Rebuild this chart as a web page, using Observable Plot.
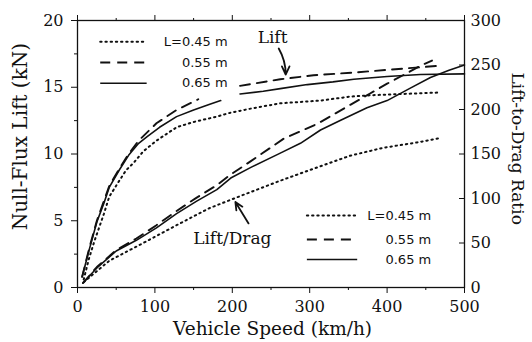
<!DOCTYPE html>
<html><head><meta charset="utf-8">
<script src="https://cdn.jsdelivr.net/npm/d3@7"></script>
<script src="https://cdn.jsdelivr.net/npm/@observablehq/plot@0.6"></script>
<style>body{margin:0;background:#fff}</style>
</head><body><div id="chart"></div>
<script>
// Legend labels
const lengthLabels = ["L=0.45 m", "0.55 m", "0.65 m"];

// Null-flux lift (kN) vs vehicle speed (km/h); null = break in the drawn curve
const liftSpeed045 = [8, 15, 22, 34, 41, 54, 63, 72, 85, 102, 128, 150, 180, 198, 224, 262, 314, 352, 378, 421, 465];
const lift045      = [0.6, 2.2, 3.5, 5.5, 6.8, 8.0, 8.8, 9.3, 10.2, 11.0, 12.0, 12.4, 12.8, 13.1, 13.4, 13.8, 14.0, 14.3, 14.4, 14.5, 14.6];

const liftSpeed055 = [6, 15, 25, 41, 54, 66, 79, 102, 128, 156, 183, 210, 262, 305, 357, 400, 443, 466];
const lift055      = [0.8, 2.9, 5.0, 7.6, 8.9, 10.0, 11.0, 12.3, 13.3, 14.1, null, 15.1, 15.6, 15.9, 16.1, 16.3, 16.5, 16.6];

const liftSpeed065 = [6, 15, 25, 34, 41, 54, 66, 79, 90, 106, 128, 150, 170, 185, 197, 210, 240, 262, 297, 330, 357, 400, 443, 500];
const lift065      = [0.8, 2.8, 4.9, 6.3, 7.5, 8.8, 9.9, 10.8, 11.3, 12.0, 12.8, 13.3, 13.7, 14.0, null, 14.5, 14.7, 14.9, 15.2, 15.4, 15.6, 15.8, 15.95, 16.0];

// Lift-to-drag ratio vs vehicle speed (km/h)
const ratioSpeed045 = [8, 41, 85, 128, 170, 214, 262, 310, 352, 395, 439, 469];
const ratio045      = [6, 30, 50, 70, 89, 104, 120, 135, 148, 157, 163, 168];

const ratioSpeed055 = [7, 25, 50, 76, 102, 128, 154, 180, 198, 224, 266, 310, 352, 378, 400, 426, 445, 458];
const ratio055      = [5, 23, 42, 55, 70, 86, 101, 115, 127, 142, 167, 184, 205, 218, 229, 241, 250, 255];

const ratioSpeed065 = [7, 25, 50, 76, 102, 128, 154, 180, 198, 224, 262, 288, 314, 340, 374, 400, 430, 456, 480, 500];
const ratio065      = [5, 22, 41, 53, 67, 83, 97, 110, 123, 135, 151, 162, 177, 188, 202, 210, 224, 236, 244, 250];

// Axis ticks
const speedTicks = [0, 100, 200, 300, 400, 500];
const speedMinorTicks = [50, 150, 250, 350, 450];
const liftTicks = [0, 5, 10, 15, 20];
const liftMinorTicks = [2.5, 7.5, 12.5, 17.5];
const ratioTicks = [0, 50, 100, 150, 200, 250, 300];
const ratioPerKN = 15; // right axis 0–300 spans left axis 0–20

// Legend / annotation anchor positions (data units)
const legendTopY = [18.4, 16.85, 15.3];
const legendBottomY = [5.4, 3.6, 2.1];

const styles = [
  {strokeDasharray: "1.4 3.8", strokeLinecap: "round", strokeWidth: 2},
  {strokeDasharray: "10 7", strokeWidth: 1.9},
  {strokeWidth: 1.6}
];

const rows = (xs, ys) => xs.map((x, i) => ({x, y: ys[i]}));
const liftSets = [rows(liftSpeed045, lift045), rows(liftSpeed055, lift055), rows(liftSpeed065, lift065)];
const ratioSets = [rows(ratioSpeed045, ratio045), rows(ratioSpeed055, ratio055), rows(ratioSpeed065, ratio065)];

const ink = "#111";
const marks = [];
styles.forEach((s, i) => {
  marks.push(Plot.line(liftSets[i], {x: "x", y: "y", stroke: ink, ...s}));
  marks.push(Plot.line(ratioSets[i], {x: "x", y: d => d.y / ratioPerKN, stroke: ink, ...s}));
  marks.push(Plot.ruleY([legendTopY[i]], {x1: 30, x2: 90, stroke: ink, ...s}));
  marks.push(Plot.ruleY([legendBottomY[i]], {x1: 297, x2: 362, stroke: ink, ...s}));
});

const chart = Plot.plot({
  width: 532, height: 342,
  marginLeft: 77, marginRight: 68, marginTop: 20, marginBottom: 55,
  style: {fontFamily: "DejaVu Serif", fontSize: "16px", background: "white", color: ink, overflow: "visible"},
  x: {domain: [0, 500]},
  y: {domain: [0, 20]},
  marks: [
    Plot.frame({stroke: ink, strokeWidth: 1.3}),
    Plot.axisX({anchor: "bottom", ticks: speedTicks, tickSize: 6, tickPadding: 7, label: null}),
    Plot.axisX({anchor: "bottom", ticks: speedMinorTicks, tickSize: 3, tickFormat: () => "", label: null}),
    Plot.axisX({anchor: "top", ticks: speedTicks, tickSize: 6, tickFormat: () => "", label: null}),
    Plot.axisX({anchor: "top", ticks: speedMinorTicks, tickSize: 3, tickFormat: () => "", label: null}),
    Plot.axisY({anchor: "left", ticks: liftTicks, tickSize: 6, tickPadding: 8, label: null}),
    Plot.axisY({anchor: "left", ticks: liftMinorTicks, tickSize: 3, tickFormat: () => "", label: null}),
    Plot.axisY({anchor: "right", ticks: ratioTicks.map(r => r / ratioPerKN), tickSize: 0, tickPadding: 6,
                tickFormat: d => Math.round(d * ratioPerKN), label: null}),
    Plot.tickY(ratioTicks.map(r => r / ratioPerKN), {y: d => d, insetLeft: 382, stroke: ink}),
    ...marks,
    Plot.text(lengthLabels, {x: 194, y: (d, i) => legendTopY[i], textAnchor: "end", fontFamily: "DejaVu Sans", fontSize: 13, fill: ink}),
    Plot.text(lengthLabels, {x: 457, y: (d, i) => legendBottomY[i], textAnchor: "end", fontFamily: "DejaVu Sans", fontSize: 13, fill: ink}),
    Plot.text(["Lift"], {x: 252, y: 18.73, fontSize: 17, fill: ink}),
    Plot.text(["Lift/Drag"], {x: 200, y: 3.67, fontSize: 17, fill: ink}),
    Plot.arrow([0], {x1: 260, y1: 17.9, x2: 269, y2: 15.95, bend: 15, stroke: ink, strokeWidth: 1.8, headLength: 9, headAngle: 50}),
    Plot.arrow([0], {x1: 221, y1: 4.8, x2: 204, y2: 6.4, stroke: ink, strokeWidth: 1.8, headLength: 9, headAngle: 50}),
    Plot.text(["Vehicle Speed (km/h)"], {x: 252, y: -3.15, fontSize: 18.5, fill: ink, clip: false}),
    Plot.text(["Null-Flux Lift (kN)"], {x: -74, y: 11.3, rotate: -90, fontSize: 20, fill: ink, clip: false, style: "letter-spacing:2.2px"}),
    Plot.text(["Lift-to-Drag Ratio"], {x: 568, y: 10.4, rotate: 90, fontSize: 17, fill: ink, clip: false})
  ]
});
document.getElementById("chart").appendChild(chart);
</script>
</body></html>
